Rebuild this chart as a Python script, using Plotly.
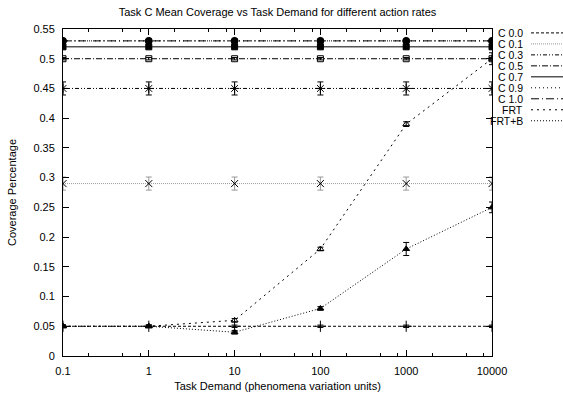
import plotly.graph_objects as go

# Task demand levels (x) and their tick labels
demand = [0.1, 1, 10, 100, 1000, 10000]
tick_labels = ["0.1", "1", "10", "100", "1000", "10000"]
minor_ticks = [0.2, 0.5, 0.8, 2, 5, 8, 20, 50, 80, 200, 500, 800, 2000, 5000, 8000]

series_names = ["C 0.0", "C 0.1", "C 0.3", "C 0.5", "C 0.7", "C 0.9", "C 1.0", "FRT", "FRT+B"]

# Mean coverage per action rate / strategy, with error half-widths
cov_c00 = [0.05, 0.05, 0.05, 0.05, 0.05, 0.05]
err_c00 = [0.002, 0.002, 0.002, 0.002, 0.002, 0.002]
cov_c01 = [0.29, 0.29, 0.29, 0.29, 0.29, 0.29]
err_c01 = [0.011, 0.011, 0.011, 0.011, 0.011, 0.011]
cov_c03 = [0.45, 0.45, 0.45, 0.45, 0.45, 0.45]
err_c03 = [0.011, 0.011, 0.011, 0.011, 0.011, 0.011]
cov_c05 = [0.50, 0.50, 0.50, 0.50, 0.50, 0.50]
err_c05 = [0.002, 0.002, 0.002, 0.002, 0.002, 0.002]
cov_c07 = [0.52, 0.52, 0.52, 0.52, 0.52, 0.52]
err_c07 = [0.002, 0.002, 0.002, 0.002, 0.002, 0.002]
cov_c09 = [0.53, 0.53, 0.53, 0.53, 0.53, 0.53]
err_c09 = [0.002, 0.002, 0.002, 0.002, 0.002, 0.002]
cov_c10 = [0.53, 0.53, 0.53, 0.53, 0.53, 0.53]
err_c10 = [0.002, 0.002, 0.002, 0.002, 0.002, 0.002]
cov_frt = [0.05, 0.05, 0.06, 0.18, 0.39, 0.50]
err_frt = [0.002, 0.002, 0.003, 0.003, 0.004, 0.010]
cov_frtb = [0.05, 0.05, 0.04, 0.08, 0.18, 0.25]
err_frtb = [0.002, 0.002, 0.003, 0.003, 0.011, 0.009]

values = [cov_c00, cov_c01, cov_c03, cov_c05, cov_c07, cov_c09, cov_c10, cov_frt, cov_frtb]
errors = [err_c00, err_c01, err_c03, err_c05, err_c07, err_c09, err_c10, err_frt, err_frtb]

# gnuplot-like line/point styles
dashes = ["3px,2px", "1px,1px", "4px,2px,1px,2px,1px,2px", "6px,2px,1px,2px", "solid",
          "1px,3px", "8px,3px,1px,3px", "2px,4px", "1px,2px"]
colors = ["#000", "#999", "#000", "#000", "#000", "#000", "#000", "#000", "#000"]
symbols = ["cross-thin", "x-thin", "asterisk", "square-open", "square", "circle-open",
           "circle", "triangle-up-open", "triangle-up"]
sizes = [8, 7, 8, 6, 6, 6, 7, 6, 6]

W, H = 563, 403
L, R, T, B = 63, 71, 29, 39
PW, PH = W - L - R, H - T - B


def px_x(p):
    return (p - L) / PW


def px_y(q):
    return (H - B - q) / PH


FONT = "Liberation Sans, Arial, sans-serif"

fig = go.Figure()
for name, ys, es, dash, col, sym, sz in zip(series_names, values, errors, dashes, colors, symbols, sizes):
    fig.add_trace(go.Scatter(
        x=demand, y=ys, mode="lines", name=name, showlegend=False,
        line=dict(color=col, width=1, dash=dash),
    ))
    fig.add_trace(go.Scatter(
        x=demand, y=ys, mode="markers", name=name, showlegend=False,
        marker=dict(symbol=sym, size=sz, color="#000", line=dict(color="#000", width=1)),
        error_y=dict(type="data", array=es, visible=True, color=col,
                     thickness=1, width=3),
    ))

# key: text on the left, line sample on the right
shapes = []
annotations = []
for i, (name, dash, col) in enumerate(zip(series_names, dashes, colors)):
    yrow = 33 + 11.25 * i
    annotations.append(dict(
        x=px_x(524), y=px_y(yrow), xref="paper", yref="paper", text=name, showarrow=False,
        xanchor="right", yanchor="middle", borderpad=0,
        font=dict(family=FONT, size=10.5, color="#000"),
    ))
    shapes.append(dict(
        type="line", xref="paper", yref="paper", x0=px_x(531), x1=px_x(575),
        y0=px_y(yrow), y1=px_y(yrow), line=dict(color=col, width=1, dash=dash),
    ))

fig.update_layout(
    width=W, height=H,
    margin=dict(l=L, r=R, t=T, b=B, pad=0),
    paper_bgcolor="white", plot_bgcolor="white",
    font=dict(family=FONT, size=11, color="#000"),
    title=dict(text="Task C Mean Coverage vs Task Demand for different action rates",
               x=0.5, xref="paper", xanchor="center", y=1 - 12 / H, yanchor="middle",
               font=dict(family=FONT, size=11, color="#000")),
    showlegend=False,
    shapes=shapes,
    annotations=annotations,
    xaxis=dict(
        type="log", range=[-1, 4], tickmode="array", tickvals=demand, ticktext=tick_labels,
        ticks="inside", ticklen=6, tickwidth=1, tickcolor="#000",
        showline=True, linecolor="#000", linewidth=1, mirror="ticks",
        showgrid=False, zeroline=False, ticklabelstandoff=5,
        minor=dict(tickmode="array", tickvals=minor_ticks, ticks="inside", ticklen=3,
                   tickcolor="#000", tickwidth=1, showgrid=False),
        title=dict(text="Task Demand (phenomena variation units)", standoff=6,
                   font=dict(family=FONT, size=11)),
    ),
    yaxis=dict(
        range=[0, 0.55], tickmode="linear", tick0=0, dtick=0.05,
        ticks="inside", ticklen=6, tickwidth=1, tickcolor="#000",
        showline=True, linecolor="#000", linewidth=1, mirror="ticks",
        showgrid=False, zeroline=False, ticklabelstandoff=5,
        title=dict(text="Coverage Percentage", standoff=14, font=dict(family=FONT, size=11)),
    ),
)

fig.write_html("out.html")
